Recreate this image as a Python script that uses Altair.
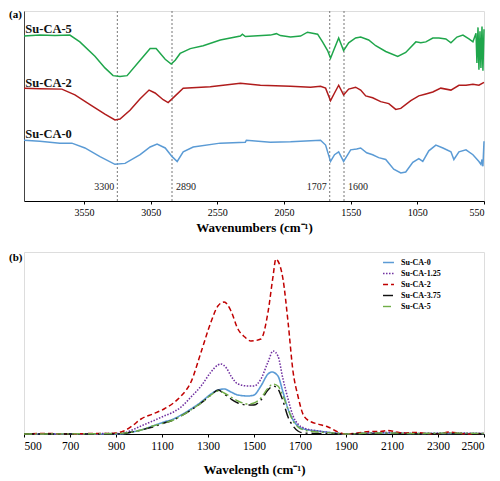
import altair as alt
import pandas as pd

FONT = "Liberation Serif"

# ---------------- Panel (a): FTIR spectra (offset, arbitrary units) ----------------
a_series = ["Su-CA-0", "Su-CA-2", "Su-CA-5"]
a_colors = ["#5b9bd5", "#b01c1c", "#1fa64b"]

ca5_wn = [4000, 3881, 3769, 3656, 3581, 3468, 3393, 3332, 3280, 3227, 3129, 3054, 3009, 2941,
          2896, 2866, 2829, 2753, 2656, 2528, 2377, 2362, 2340, 2152, 2107, 2077, 2001, 1926,
          1874, 1798, 1761, 1723, 1701, 1678, 1640, 1603, 1565, 1513, 1475, 1415, 1362, 1287,
          1197, 1137, 1061, 1024, 986, 934, 888, 836, 798, 753, 708, 663, 633, 610, 603, 595,
          588, 580, 573, 565, 558, 550]
ca5_t = [171, 172, 171.5, 172, 165, 150, 138, 130, 129, 130, 146, 158, 158, 147,
         142, 146, 153, 158, 161, 167, 171, 173, 170.5, 172, 173.5, 171.5, 170, 171,
         175, 173, 165, 156, 148, 156, 169, 156, 164, 169, 170, 167, 161, 155,
         150, 154, 165, 164, 165, 169, 169, 168, 164, 170, 172, 168, 165, 174, 143, 180,
         136, 176, 138, 181, 135, 178]

ca2_wn = [4000, 3881, 3716, 3618, 3505, 3393, 3318, 3280, 3205, 3129, 3062, 3017, 2956, 2919,
          2866, 2806, 2603, 2377, 2227, 2001, 1851, 1776, 1738, 1701, 1671, 1640, 1603, 1565,
          1513, 1475, 1437, 1385, 1325, 1264, 1212, 1174, 1099, 1039, 986, 934, 874, 798, 738,
          685, 633, 588, 550]
ca2_t = [117, 116.5, 116, 110, 100, 90, 84, 85, 94, 106, 115, 112, 105, 102,
         109, 117, 118.5, 122, 120, 119, 118, 119, 117, 104, 112, 120, 110, 116,
         118, 115, 109, 107, 103, 101, 95, 96, 104, 109, 111, 113, 117, 115, 120,
         120, 121, 120, 123]

ca0_wn = [4000, 3881, 3731, 3641, 3543, 3430, 3318, 3242, 3129, 3054, 3002, 2941, 2889, 2851,
          2806, 2731, 2528, 2340, 2332, 2152, 2001, 1776, 1738, 1701, 1671, 1640, 1603, 1550,
          1505, 1475, 1430, 1385, 1340, 1287, 1227, 1174, 1137, 1084, 1039, 1009, 964, 911,
          858, 798, 776, 738, 685, 633, 588, 573, 565, 558, 550]
ca0_t = [63, 62, 60, 60, 55, 46, 38, 39, 48, 56, 59, 55, 46, 41,
         51, 56, 60, 61, 63, 61, 61.5, 63, 58, 41, 48, 51, 41, 53,
         54, 55, 50, 48, 45, 43, 33, 29, 30, 40, 44, 41, 52, 58,
         55, 51, 43, 51, 53, 48, 41, 38, 43, 36, 62]

a_label_wn = 3990
a_label_t = [69, 122, 178]

peak_wn = [3300, 2890, 1707, 1600]
peak_text = ["3300", "2890", "1707", "1600"]
peak_side = ["right", "left", "right", "left"]
peak_text_t = 15

# ---------------- Panel (b): spectra vs wavelength ----------------
b_series = ["Su-CA-0", "Su-CA-1.25", "Su-CA-2", "Su-CA-3.75", "Su-CA-5"]
b_colors = ["#5b9bd5", "#7030a0", "#c00000", "#111111", "#70ad47"]
b_dashes = [[1, 0], [1.5, 1.5], [5, 3], [10, 4, 2, 4], [8, 3, 2, 3]]
b_widths = [1.6, 1.4, 1.6, 2.2, 1.6]

b0_wl = [500, 900, 934, 970, 1009, 1060, 1109, 1150, 1183, 1226, 1270, 1313, 1343, 1370, 1400,
         1430, 1474, 1500, 1530, 1561, 1578, 1604, 1626, 1648, 1670, 1691, 1717, 1778, 1850,
         1900, 2000, 2100, 2200, 2300, 2500]
b0_v = [0, 0, 0.5, 2, 4, 8, 12, 15, 19, 25, 32, 40, 44, 45, 42,
        39, 38, 39, 48, 60, 62, 58, 42, 25, 14, 8, 5, 3, 1,
        0, 1, 1, 0.5, 0.5, 0.5]

b125_wl = [500, 900, 934, 970, 1009, 1060, 1109, 1150, 1183, 1226, 1270, 1313, 1343, 1355, 1380,
           1400, 1430, 1474, 1500, 1530, 1561, 1583, 1604, 1626, 1648, 1670, 1691, 1717, 1778,
           1850, 1900, 2000, 2100, 2200, 2350, 2500]
b125_v = [0, 0.5, 1, 4, 8, 13, 18, 22, 27, 37, 48, 62, 69, 70, 66,
          58, 50, 48, 48, 55, 72, 83, 78, 55, 35, 18, 10, 6, 3,
          1, 0, 1, 1.5, 0.5, 1, 0.5]

b2_wl = [500, 600, 700, 800, 850, 900, 934, 970, 1009, 1060, 1109, 1150, 1183, 1226, 1270, 1313,
         1343, 1370, 1400, 1430, 1460, 1487, 1530, 1561, 1583, 1595, 1604, 1626, 1648, 1670,
         1691, 1717, 1750, 1778, 1822, 1865, 1900, 1950, 2000, 2050, 2080, 2120, 2150, 2200,
         2250, 2300, 2350, 2400, 2450, 2500]
b2_v = [0, 0.5, 0, 0.5, 0.5, 1, 3, 8, 15, 20, 25, 31, 38, 52, 82, 112,
        128, 132, 123, 105, 97, 93, 95, 122, 158, 175, 173, 155, 112, 62,
        38, 18, 12, 10, 7, 2, 0, 1, 2.5, 2.5, 3.5, 2, 1, 1.5,
        0.5, 0, 2, 0.5, 0, 1]

b375_wl = [500, 900, 934, 970, 1009, 1060, 1109, 1150, 1183, 1226, 1270, 1313, 1345, 1370, 1400,
           1430, 1474, 1500, 1530, 1561, 1583, 1604, 1626, 1648, 1670, 1691, 1717, 1778, 1900,
           2500]
b375_v = [0, 0, 0.5, 2, 4, 7, 11, 14, 18, 24, 31, 39, 44, 40, 35,
          31, 29, 29, 34, 44, 48, 45, 33, 17, 8, 3, 1, 0.5, 0,
          0]

b5_wl = [500, 900, 970, 1009, 1060, 1109, 1150, 1183, 1226, 1270, 1313, 1345, 1370, 1400, 1430,
         1474, 1500, 1530, 1561, 1583, 1604, 1626, 1648, 1670, 1691, 1717, 1778, 1850, 1900,
         2000, 2100, 2200, 2350, 2500]
b5_v = [0, 0.5, 2, 4, 8, 11, 14, 18, 24, 31, 39, 43, 41, 37, 33,
        30, 31, 36, 46, 50, 48, 38, 25, 13, 7, 4, 2, 1, 0,
        1, 1, 0.5, 1, 0.5]

# ---------------- build tables ----------------
def frame(name, xs, ys, xcol, ycol):
    return pd.DataFrame({xcol: xs, ycol: ys, "series": name})

df_a = pd.concat([
    frame("Su-CA-0", ca0_wn, ca0_t, "wn", "t"),
    frame("Su-CA-2", ca2_wn, ca2_t, "wn", "t"),
    frame("Su-CA-5", ca5_wn, ca5_t, "wn", "t"),
])
df_a_labels = pd.DataFrame({"wn": [a_label_wn] * 3, "t": a_label_t, "name": a_series})
df_peaks = pd.DataFrame({"wn": peak_wn, "text": peak_text, "side": peak_side,
                         "t": [peak_text_t] * 4})

df_b = pd.concat([
    frame("Su-CA-0", b0_wl, b0_v, "wl", "v"),
    frame("Su-CA-1.25", b125_wl, b125_v, "wl", "v"),
    frame("Su-CA-2", b2_wl, b2_v, "wl", "v"),
    frame("Su-CA-3.75", b375_wl, b375_v, "wl", "v"),
    frame("Su-CA-5", b5_wl, b5_v, "wl", "v"),
]).rename(columns={"series": "sample"})

W = 460
HA = 190
HB = 182

xa = alt.X("wn:Q", scale=alt.Scale(domain=[550, 4000], reverse=True, nice=False),
           axis=alt.Axis(values=[3550, 3050, 2550, 2050, 1550, 1050, 550], format="d",
                         title="Wavenumbers (cm⁻¹)", grid=False, domainColor="#000",
                         tickColor="#000", tickSize=3, labelFontSize=10, labelPadding=3,
                         titleFontSize=13, titleFontWeight="bold", titlePadding=4,
                         labelFont=FONT, titleFont=FONT, labelColor="#000", titleColor="#000"))
ya = alt.Y("t:Q", scale=alt.Scale(domain=[0, 197], nice=False),
           axis=alt.Axis(labels=False, ticks=False, grid=False, title=None,
                         domainColor="#444"))
col_a = alt.Color("series:N", scale=alt.Scale(domain=a_series, range=a_colors), legend=None)

rules = alt.Chart(df_peaks).mark_rule(color="#777", strokeDash=[2, 2], strokeWidth=1).encode(x=xa)
lines_a = alt.Chart(df_a).mark_line(strokeWidth=1.5).encode(x=xa, y=ya, color=col_a)
labels_a = alt.Chart(df_a_labels).mark_text(align="left", baseline="middle", font=FONT,
                                            fontSize=12.5, fontWeight="bold", color="#111").encode(
    x=xa, y=ya, text="name:N")
peak_r = alt.Chart(df_peaks).transform_filter(alt.datum.side == "right").mark_text(
    align="right", dx=-3, baseline="middle", font=FONT, fontSize=10, color="#222").encode(
    x=xa, y=ya, text="text:N")
peak_l = alt.Chart(df_peaks).transform_filter(alt.datum.side == "left").mark_text(
    align="left", dx=4, baseline="middle", font=FONT, fontSize=10, color="#222").encode(
    x=xa, y=ya, text="text:N")
tag_a = alt.Chart(pd.DataFrame({"tag": ["(a)"]})).mark_text(
    align="left", baseline="middle", font=FONT, fontSize=11, fontWeight="bold", color="#000").encode(
    x=alt.value(-15), y=alt.value(4), text="tag:N")

panel_a = alt.layer(rules, lines_a, labels_a, peak_r, peak_l, tag_a).properties(width=W, height=HA)

xb = alt.X("wl:Q", scale=alt.Scale(domain=[500, 2500], nice=False),
           axis=alt.Axis(values=list(range(500, 2501, 200)), format="d",
                         title="Wavelength (cm⁻¹)", grid=False, domainColor="#000",
                         tickColor="#000", tickSize=3, labelFontSize=11.5, labelPadding=3,
                         titleFontSize=13, titleFontWeight="bold", titlePadding=12,
                         labelFont=FONT, titleFont=FONT, labelColor="#000", titleColor="#000"))
yb = alt.Y("v:Q", scale=alt.Scale(domain=[0, 182], nice=False),
           axis=alt.Axis(labels=False, ticks=False, grid=False, title=None, domain=False))
leg = alt.Legend(title=None, orient="none", legendX=358, legendY=4,
                 labelFont=FONT, labelFontWeight="bold", labelFontSize=8, labelColor="#000",
                 symbolType="stroke", symbolSize=120, symbolStrokeWidth=2,
                 rowPadding=0, labelOffset=6)
lines_b = alt.Chart(df_b).mark_line(interpolate="monotone").encode(
    x=xb, y=yb,
    color=alt.Color("sample:N", scale=alt.Scale(domain=b_series, range=b_colors), legend=leg),
    strokeDash=alt.StrokeDash("sample:N", scale=alt.Scale(domain=b_series, range=b_dashes), legend=leg),
    strokeWidth=alt.StrokeWidth("sample:N", scale=alt.Scale(domain=b_series, range=b_widths), legend=None),
)
tag_b = alt.Chart(pd.DataFrame({"tag": ["(b)"]})).mark_text(
    align="left", baseline="middle", font=FONT, fontSize=11, fontWeight="bold", color="#000").encode(
    x=alt.value(-15), y=alt.value(6), text="tag:N")
panel_b = alt.layer(lines_b, tag_b).properties(width=W, height=HB)

chart = alt.vconcat(panel_a, panel_b, spacing=16).resolve_scale(
    color="independent", strokeDash="independent", strokeWidth="independent"
).resolve_legend(color="independent", strokeDash="independent").properties(
    padding=0).configure_view(stroke="#999", strokeWidth=1).configure(background="white")

chart.save("out.html", embed_options={"renderer": "svg", "actions": False})
